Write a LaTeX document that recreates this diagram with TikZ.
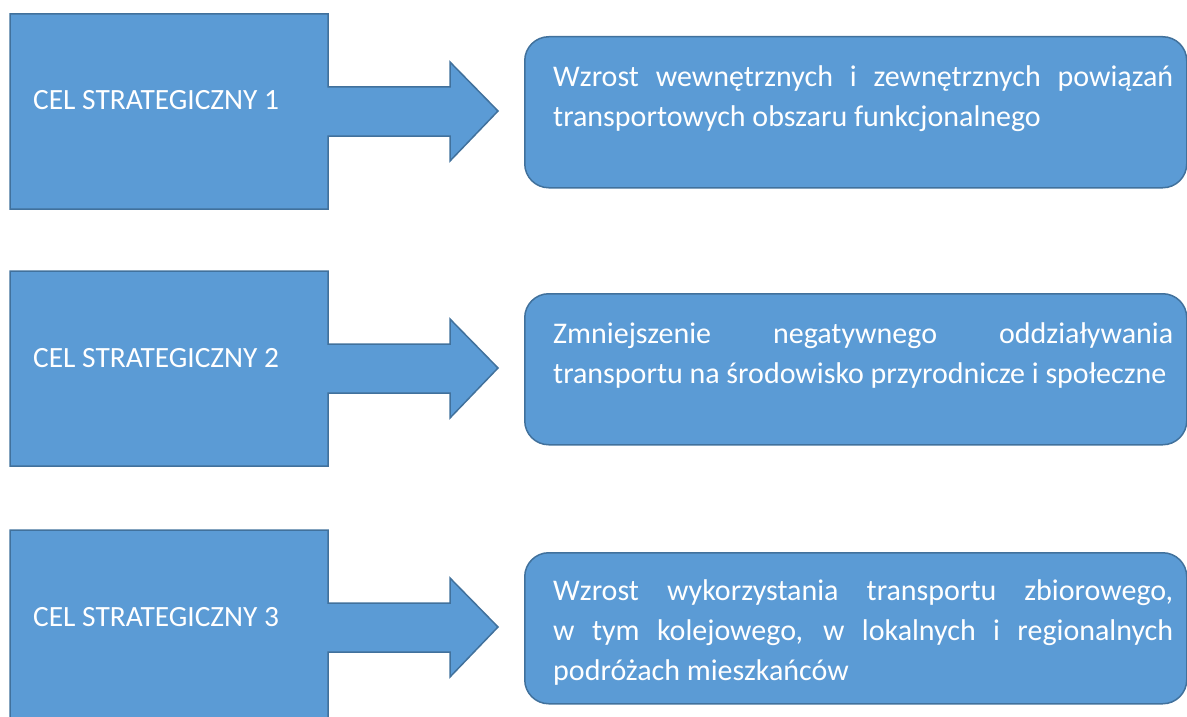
\documentclass[tikz,border=0pt]{standalone}
\usepackage{fontspec}
\setmainfont{Carlito}
\definecolor{boxfill}{HTML}{5B9BD5}
\definecolor{boxline}{HTML}{41719C}
\begin{document}
\begin{tikzpicture}[x=1pt,y=-1pt,
  shapebox/.style={fill=boxfill,draw=boxline,line width=1.5pt},
  goalbox/.style={shapebox,rounded corners=24pt,anchor=north west,inner sep=0pt,
    minimum width=662pt,minimum height=151pt},
  lbl/.style={text=white,inner sep=0pt},
  goaltext/.style={lbl,font=\fontsize{30}{40}\selectfont,text width=620pt,align=justify,anchor=base west,
    execute at begin node={\tolerance=10000\hbadness=10000\hyphenpenalty=10000}}]
\useasboundingbox (0,0) rectangle (1187,717);
\foreach \o/\n in {0/1,257/2,516/3}{
  \begin{scope}[yshift=-\o pt]
    \draw[shapebox] (10,14) -- (328,14) -- (328,87) -- (450,87) -- (450,62)
      -- (498,111) -- (450,161) -- (450,136) -- (328,136) -- (328,209)
      -- (10,209) -- cycle;
    \node[lbl,font=\fontsize{29.4}{36}\selectfont,anchor=base west] (cel\n) at (33,110) {CEL STRATEGICZNY \n};
    \node[goalbox] (goal\n) at (524,36) {};
  \end{scope}
}
\node[goaltext] (t1) at (553,87) {Wzrost wewnętrznych i zewnętrznych powiązań\linebreak transportowych obszaru funkcjonalnego};
\node[goaltext] (t2) at (553,343) {Zmniejszenie negatywnego oddziaływania\linebreak transportu na środowisko przyrodnicze i społeczne};
\node[goaltext] (t3) at (553,600) {Wzrost wykorzystania transportu zbiorowego,\linebreak w~tym kolejowego, w~lokalnych i~regionalnych\linebreak podróżach mieszkańców};
\end{tikzpicture}
\end{document}
